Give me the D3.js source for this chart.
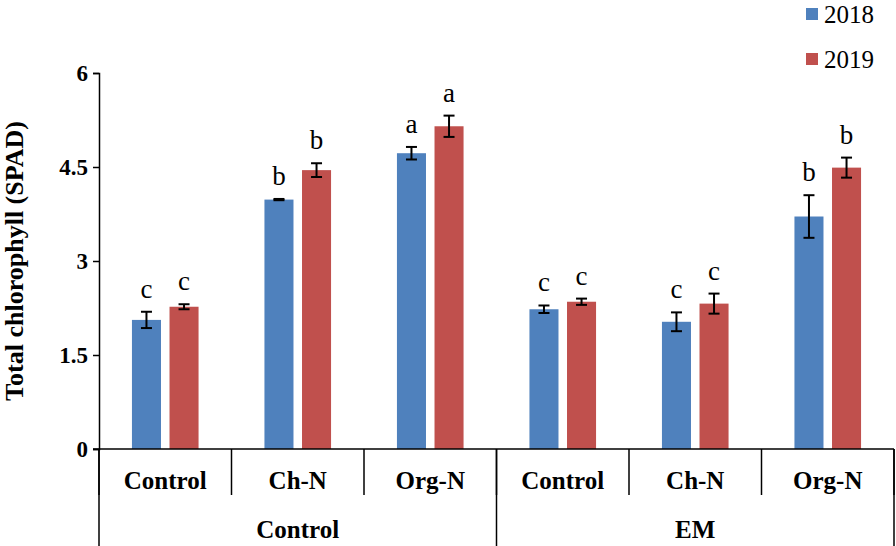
<!DOCTYPE html>
<html>
<head>
<meta charset="utf-8">
<script src="https://cdn.jsdelivr.net/npm/d3@7"></script>
<style>
html,body{margin:0;padding:0;background:#fff;}
svg{display:block;font-family:"Liberation Serif","Times New Roman",serif;}
</style>
</head>
<body>
<svg id="chart" width="896" height="546"></svg>
<script>
const outerGroups = ["Control", "EM"];
const treatments = ["Control", "Ch-N", "Org-N"];
const series = ["2018", "2019"];
const values2018 = [2.06, 3.98, 4.72, 2.23, 2.03, 3.71];
const values2019 = [2.27, 4.45, 5.15, 2.35, 2.32, 4.49];
const err2018 = [0.13, 0.01, 0.10, 0.06, 0.15, 0.34];
const err2019 = [0.04, 0.11, 0.17, 0.05, 0.16, 0.16];
const letters2018 = ["c", "b", "a", "c", "c", "b"];
const letters2019 = ["c", "b", "a", "c", "c", "b"];
const yTicks = [0, 1.5, 3, 4.5, 6];
const colors = ["#4F81BD", "#C0504D"];

const cats = [];
outerGroups.forEach(g => treatments.forEach(t => cats.push(g + "|" + t)));

const data = cats.map((c, i) => ({
  key: c,
  vals: [
    {s: series[0], v: values2018[i], e: err2018[i], l: letters2018[i]},
    {s: series[1], v: values2019[i], e: err2019[i], l: letters2019[i]}
  ]
}));

const svg = d3.select("#chart");
const mLeft = 99, mRight = 894, mTop = 73, mBottom = 449;

const x0 = d3.scaleBand().domain(cats).range([mLeft, mRight]).padding(0);
const x1 = d3.scaleBand().domain(series).range([0, x0.bandwidth()])
  .paddingInner(0.227).paddingOuter(0.877);
const y = d3.scaleLinear().domain([0, 6]).range([mBottom, mTop]);
const color = d3.scaleOrdinal().domain(series).range(colors);

// y axis
const yAxis = svg.append("g").attr("transform", `translate(${mLeft},0)`)
  .call(d3.axisLeft(y).tickValues(yTicks).tickSize(6).tickPadding(5)
    .tickFormat(d => d3.format("")(d)));
yAxis.select(".domain").attr("stroke", "#000").attr("stroke-width", 1.5);
yAxis.selectAll(".tick line").attr("stroke", "#000").attr("stroke-width", 1.5);
yAxis.selectAll(".tick text").attr("font-family", "Liberation Serif, serif")
  .attr("font-size", 23).attr("font-weight", "bold").attr("fill", "#000");

// y title
svg.append("text")
  .attr("transform", `translate(23,261) rotate(-90)`)
  .attr("text-anchor", "middle")
  .attr("font-size", 26).attr("font-weight", "bold")
  .text("Total chlorophyll (SPAD)");

// bars
const g = svg.append("g").selectAll("g").data(data).join("g")
  .attr("transform", d => `translate(${x0(d.key)},0)`);

g.selectAll("rect").data(d => d.vals).join("rect")
  .attr("x", d => x1(d.s))
  .attr("width", x1.bandwidth())
  .attr("y", d => y(d.v))
  .attr("height", d => y(0) - y(d.v))
  .attr("fill", d => color(d.s));

// error bars
const eb = g.selectAll("g.err").data(d => d.vals).join("g").attr("class", "err");
const capW = 11;
eb.append("line")
  .attr("x1", d => x1(d.s) + x1.bandwidth() / 2)
  .attr("x2", d => x1(d.s) + x1.bandwidth() / 2)
  .attr("y1", d => y(d.v + d.e)).attr("y2", d => y(d.v - d.e))
  .attr("stroke", "#000").attr("stroke-width", 2);
eb.append("line")
  .attr("x1", d => x1(d.s) + x1.bandwidth() / 2 - capW / 2)
  .attr("x2", d => x1(d.s) + x1.bandwidth() / 2 + capW / 2)
  .attr("y1", d => y(d.v + d.e)).attr("y2", d => y(d.v + d.e))
  .attr("stroke", "#000").attr("stroke-width", 2);
eb.append("line")
  .attr("x1", d => x1(d.s) + x1.bandwidth() / 2 - capW / 2)
  .attr("x2", d => x1(d.s) + x1.bandwidth() / 2 + capW / 2)
  .attr("y1", d => y(d.v - d.e)).attr("y2", d => y(d.v - d.e))
  .attr("stroke", "#000").attr("stroke-width", 2);

// letters
g.selectAll("text.lab").data(d => d.vals).join("text").attr("class", "lab")
  .attr("x", d => x1(d.s) + x1.bandwidth() / 2)
  .attr("y", d => y(d.v + d.e) - 14)
  .attr("text-anchor", "middle")
  .attr("font-size", 27)
  .text(d => d.l);

// x axis line
svg.append("line").attr("x1", mLeft - 6).attr("x2", mRight)
  .attr("y1", mBottom).attr("y2", mBottom)
  .attr("stroke", "#000").attr("stroke-width", 1.5);

// inner dividers
const innerEdges = cats.map(c => x0(c)).concat([mRight]);
svg.append("g").selectAll("line").data(innerEdges).join("line")
  .attr("x1", d => d).attr("x2", d => d)
  .attr("y1", mBottom).attr("y2", 495)
  .attr("stroke", "#000").attr("stroke-width", 1.5);

// outer dividers
const outerX = d3.scaleBand().domain(outerGroups).range([mLeft, mRight]);
const outerEdges = outerGroups.map(o => outerX(o)).concat([mRight]);
svg.append("g").selectAll("line").data(outerEdges).join("line")
  .attr("x1", d => d).attr("x2", d => d)
  .attr("y1", mBottom).attr("y2", 546)
  .attr("stroke", "#000").attr("stroke-width", 1.5);

// inner labels
svg.append("g").selectAll("text").data(cats).join("text")
  .attr("x", d => x0(d) + x0.bandwidth() / 2)
  .attr("y", 489)
  .attr("text-anchor", "middle")
  .attr("font-size", 25).attr("font-weight", "bold")
  .text(d => d.split("|")[1]);

// outer labels
svg.append("g").selectAll("text").data(outerGroups).join("text")
  .attr("x", d => outerX(d) + outerX.bandwidth() / 2)
  .attr("y", 538)
  .attr("text-anchor", "middle")
  .attr("font-size", 25).attr("font-weight", "bold")
  .text(d => d);

// legend
const leg = svg.append("g").selectAll("g").data(series).join("g")
  .attr("transform", (d, i) => `translate(806,${8 + i * 45})`);
leg.append("rect").attr("width", 12).attr("height", 12).attr("fill", d => color(d));
leg.append("text").attr("x", 18).attr("y", 15).attr("font-size", 25).text(d => d);
</script>
</body>
</html>
